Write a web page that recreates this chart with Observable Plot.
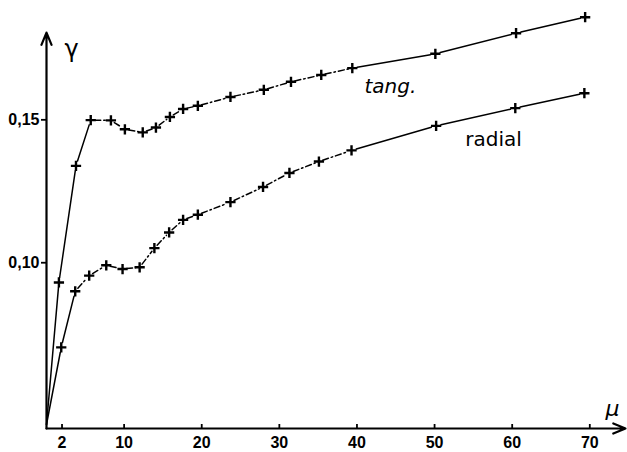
<!DOCTYPE html>
<html>
<head>
<meta charset="utf-8">
<script src="https://cdn.jsdelivr.net/npm/d3@7"></script>
<script src="https://cdn.jsdelivr.net/npm/@observablehq/plot@0.6"></script>
<style>
  html, body { margin: 0; padding: 0; background: #fff; }
  svg { display: block; }
</style>
</head>
<body>
<div id="chart"></div>
<script>
// ---- data ----
const muTang = [1.6, 3.8, 5.7, 8.3, 10.1, 12.4, 14.1, 15.9, 17.6, 19.5, 23.7, 28.0, 31.5, 35.4, 39.4, 50.1, 60.5, 69.4];
const gammaTang = [0.0931, 0.1339, 0.1499, 0.1498, 0.1467, 0.1456, 0.1473, 0.1510, 0.1538, 0.1549, 0.1580, 0.1605, 0.1633, 0.1657, 0.1681, 0.1731, 0.1803, 0.1859];
const muRadial = [1.9, 3.7, 5.5, 7.7, 9.8, 12.0, 13.9, 15.8, 17.6, 19.5, 23.7, 27.9, 31.3, 35.1, 39.3, 50.2, 60.4, 69.3];
const gammaRadial = [0.0704, 0.0900, 0.0955, 0.0991, 0.0978, 0.0984, 0.1051, 0.1106, 0.1150, 0.1168, 0.1212, 0.1265, 0.1314, 0.1354, 0.1393, 0.1479, 0.1541, 0.1593];
// common starting point of both curves (axis corner)
const originMu = 0;
const originGamma = 0.0434;
// segment styles: curve drawn solid up to marker index, dashed until index, then solid
const tangSolidUntil = 2;
const tangDashedUntil = 14;
const radialSolidUntil = 1;
const radialDashedUntil = 14;

const xTicks = [2, 10, 20, 30, 40, 50, 60, 70];
const yTicks = [0.10, 0.15];
const xDomain = [0, 74.6];
const yDomain = [0.042, 0.19];
const yAxisTop = 0.1805;
const seriesLabels = [
  {name: "tang.", mu: 44.3, gamma: 0.1615, italic: true},
  {name: "radial", mu: 57.6, gamma: 0.1430, italic: false}
];
const axisNames = {x: "μ", y: "γ"};

// ---- build tables ----
function segments(mus, gammas, solidUntil, dashedUntil) {
  const pts = [{mu: originMu, gamma: originGamma}].concat(mus.map((m, i) => ({mu: m, gamma: gammas[i]})));
  const segs = [];
  for (let i = 1; i < pts.length; i++) {
    const endIdx = i - 1;
    let style;
    if (endIdx <= solidUntil) style = "solid";
    else if (endIdx <= dashedUntil) style = "dashed";
    else style = "solid";
    segs.push({x1: pts[i - 1].mu, y1: pts[i - 1].gamma, x2: pts[i].mu, y2: pts[i].gamma, style, first: i === 1});
  }
  return segs;
}
const segs = segments(muTang, gammaTang, tangSolidUntil, tangDashedUntil)
  .concat(segments(muRadial, gammaRadial, radialSolidUntil, radialDashedUntil));
const markers = muTang.map((m, i) => ({mu: m, gamma: gammaTang[i]}))
  .concat(muRadial.map((m, i) => ({mu: m, gamma: gammaRadial[i]})));

const font = "'DejaVu Sans', sans-serif";
const fmt = d => d.toFixed(2).replace(".", ",");
const seg = (data, extra) => Plot.arrow(data, {x1: "x1", y1: "y1", x2: "x2", y2: "y2", stroke: "black", strokeWidth: 1.5, headLength: 0, ...extra});

const chart = Plot.plot({
  width: 627,
  height: 452,
  marginLeft: 46,
  marginRight: 2,
  marginTop: 5,
  marginBottom: 24,
  style: {fontFamily: font, fontSize: "15px", color: "#000", background: "#fff"},
  x: {domain: xDomain, label: null},
  y: {domain: yDomain, label: null},
  marks: [
    Plot.axisX({ticks: xTicks, tickSize: -4, tickPadding: 12, tickFormat: d => String(d), strokeWidth: 1.8}),
    Plot.axisY({ticks: yTicks, tickSize: 5, tickPadding: 2, tickFormat: fmt, strokeWidth: 1.8}),
    // axes with arrow heads
    Plot.arrow([0], {x1: xDomain[0], y1: yDomain[0], x2: xDomain[0], y2: yAxisTop, stroke: "black", strokeWidth: 2.2, headLength: 9, headAngle: 45}),
    Plot.arrow([0], {x1: xDomain[0], y1: yDomain[0], x2: xDomain[1], y2: yDomain[0], stroke: "black", strokeWidth: 2.2, headLength: 9, headAngle: 45}),
    // curves (segments stop short of the markers)
    seg(segs.filter(d => d.style === "solid" && d.first), {insetEnd: 5}),
    seg(segs.filter(d => d.style === "solid" && !d.first), {insetStart: 5, insetEnd: 5}),
    seg(segs.filter(d => d.style === "dashed"), {insetStart: 4, insetEnd: 4, strokeDasharray: "6,3,1.5,3"}),
    // markers
    Plot.dot(markers, {x: "mu", y: "gamma", symbol: "plus", r: 3.4, stroke: "black", strokeWidth: 2.4}),
    // series labels
    Plot.text(seriesLabels.filter(d => d.italic), {x: "mu", y: "gamma", text: "name", fontSize: 20, fontStyle: "italic", textAnchor: "middle", letterSpacing: "1px"}),
    Plot.text(seriesLabels.filter(d => !d.italic), {x: "mu", y: "gamma", text: "name", fontSize: 20, textAnchor: "middle", letterSpacing: "3px"}),
    // axis names
    Plot.text([axisNames.y], {frameAnchor: "top-left", dx: 18, dy: 34, fontSize: 24, textAnchor: "start"}),
    Plot.text([axisNames.x], {frameAnchor: "bottom-right", dx: -13, dy: -13, fontSize: 22, fontStyle: "italic", textAnchor: "middle"})
  ]
});
// enlarge the hand-lettered tick labels
d3.select(chart).selectAll("g").filter(function () {
  const a = this.getAttribute("aria-label") || "";
  return a.includes("axis");
}).selectAll("text")
  .style("font-family", "'Liberation Sans', Arial, sans-serif")
  .style("font-size", "16px")
  .style("font-weight", "bold");
document.getElementById("chart").appendChild(chart);
</script>
</body>
</html>
